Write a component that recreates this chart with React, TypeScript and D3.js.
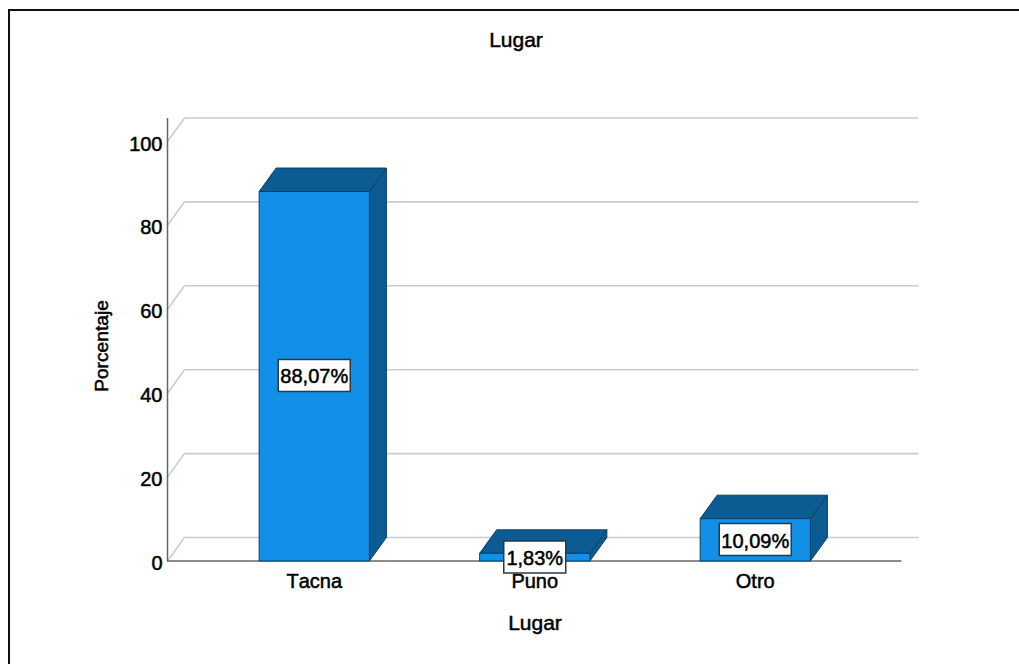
import React from "react";
import * as d3 from "d3";

const title = "Lugar";
const xTitle = "Lugar";
const yTitle = "Porcentaje";
const categories = ["Tacna", "Puno", "Otro"];
const values = [88.07, 1.83, 10.09];
const labels = ["88,07%", "1,83%", "10,09%"];
const yTicks = [0, 20, 40, 60, 80, 100];

const W = 1019, H = 664;
const FRONT = "#1290E8", SIDE = "#0C5B92", EDGE = "#0A3F66";
const FONT = "'Liberation Sans', Arial, sans-serif";
const DX = 17, DY = -23.5;

export default function App() {
  const y = d3.scaleLinear().domain([0, 100]).range([561, 141.5]);
  const x = d3.scaleBand<string>().domain(categories).range([204, 865.5]).paddingInner(0.5).paddingOuter(0.25);
  const line = d3.line();
  const textStyle = { fontFamily: FONT, fontSize: 20, fill: "#000", stroke: "#000", strokeWidth: 0.5, style: { fontKerning: "none" } } as const;
  return (
    <svg width={W} height={H} viewBox={`0 0 ${W} ${H}`} style={{ position: "absolute", left: 0, top: 0, background: "#fff" }}>
      <path d="M1019 10H9V664" fill="none" stroke="#111" strokeWidth={2} />
      <text x={516} y={47} textAnchor="middle" {...textStyle} fontSize={21}>{title}</text>

      {yTicks.map((t) => (
        <path key={t} fill="none" stroke="#CCCCCC" strokeWidth={1.6}
          d={line([[167.5, y(t)], [167.5 + DX, y(t) + DY], [918.5, y(t) + DY]])!} />
      ))}
      <path d={`M167.5 118V${y(0)}H901.5`} fill="none" stroke="#666" strokeWidth={1.5} />

      {yTicks.map((t) => (
        <text key={t} x={162.5} y={y(t) + 9} textAnchor="end" {...textStyle}>{t}</text>
      ))}

      {categories.map((c, i) => {
        const x0 = x(c)!, x1 = x0 + x.bandwidth(), top = y(values[i]), base = y(0);
        return (
          <g key={c} stroke={EDGE} strokeWidth={1} strokeLinejoin="round">
            <path fill={SIDE} d={line([[x1, top], [x1 + DX, top + DY], [x1 + DX, base + DY], [x1, base]])! + "Z"} />
            <path fill={SIDE} d={line([[x0, top], [x0 + DX, top + DY], [x1 + DX, top + DY], [x1, top]])! + "Z"} />
            <rect x={x0} y={top} width={x.bandwidth()} height={base - top} fill={FRONT} />
          </g>
        );
      })}

      {categories.map((c) => (
        <text key={c} x={x(c)! + x.bandwidth() / 2} y={588} textAnchor="middle" {...textStyle}>{c}</text>
      ))}

      {categories.map((c, i) => {
        const cx = x(c)! + x.bandwidth() / 2, cy = y(values[i] / 2);
        const w = labels[i].length > 5 ? 72 : 62, h = 32;
        const yc = i === 1 ? 557 : i === 2 ? 539.5 : cy - 0.8;
        return (
          <g key={c}>
            <rect x={cx - w / 2} y={yc - h / 2} width={w} height={h} fill="#fff" stroke="#2A3A44" strokeWidth={1.5} />
            <text x={cx} y={yc + 8} textAnchor="middle" {...textStyle}>{labels[i]}</text>
          </g>
        );
      })}

      <text x={535} y={630} textAnchor="middle" {...textStyle} fontSize={21}>{xTitle}</text>
      <text transform="translate(108,346) rotate(-90)" textAnchor="middle" {...textStyle} fontSize={19.2}>{yTitle}</text>
    </svg>
  );
}
